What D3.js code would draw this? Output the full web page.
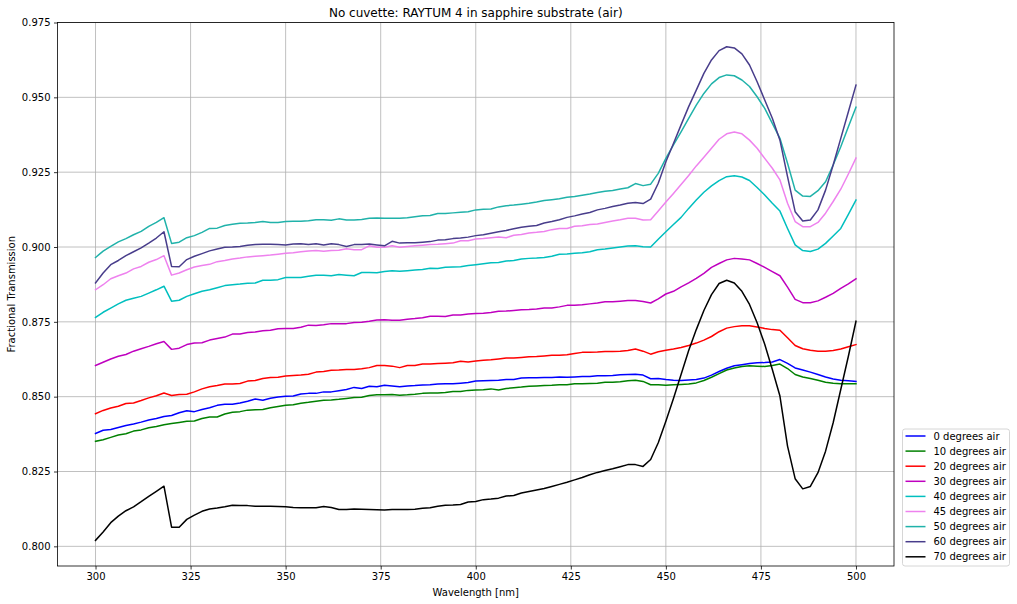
<!DOCTYPE html>
<html>
<head>
<meta charset="utf-8">
<script src="https://cdn.jsdelivr.net/npm/d3@7"></script>
<style>
  body { margin: 0; background: #fff; }
  text { font-family: "DejaVu Sans", sans-serif; }
</style>
</head>
<body>
<div id="chart"></div>
<script>
// wavelength grid [nm]
var wavelengths = [
  300,302,304,306,308,310,312,314,316,318,
  320,322,324,326,328,330,332,334,336,338,
  340,342,344,346,348,350,352,354,356,358,
  360,362,364,366,368,370,372,374,376,378,
  380,382,384,386,388,390,392,394,396,398,
  400,402,404,406,408,410,412,414,416,418,
  420,422,424,426,428,430,432,434,436,438,
  440,442,444,446,448,450,452,454,456,458,
  460,462,464,466,468,470,472,474,476,478,
  480,482,484,486,488,490,492,494,496,498,
  500
];

var labels = ['0 degrees air', '10 degrees air', '20 degrees air', '30 degrees air',
  '40 degrees air', '45 degrees air', '50 degrees air', '60 degrees air', '70 degrees air'];

var colors = ['#0000ff', '#008000', '#ff0000', '#bf00bf', '#00bfbf',
  '#ee82ee', '#20b2aa', '#483d8b', '#000000'];

var xTicks = [300, 325, 350, 375, 400, 425, 450, 475, 500];
var yTicks = [0.800, 0.825, 0.850, 0.875, 0.900, 0.925, 0.950, 0.975];

// fractional transmission per angle
var deg0 = [
  .8377,.8388,.8390,.8397,.8404,.8409,.8415,.8422,.8427,.8434,
  .8437,.8446,.8453,.8450,.8457,.8463,.8471,.8475,.8475,.8479,
  .8485,.8492,.8488,.8495,.8499,.8501,.8502,.8509,.8511,.8511,
  .8516,.8516,.8520,.8524,.8531,.8527,.8535,.8533,.8538,.8536,
  .8533,.8536,.8537,.8539,.8540,.8542,.8543,.8543,.8545,.8547,
  .8552,.8553,.8554,.8555,.8557,.8557,.8562,.8563,.8563,.8564,
  .8564,.8566,.8565,.8566,.8567,.8567,.8570,.8570,.8571,.8573,
  .8574,.8575,.8572,.8560,.8561,.8557,.8555,.8554,.8556,.8557,
  .8562,.8572,.8584,.8595,.8603,.8607,.8611,.8613,.8614,.8616,
  .8624,.8611,.8596,.8589,.8582,.8574,.8566,.8559,.8555,.8553,
  .8551
];
var deg10 = [
  .8351,.8356,.8364,.8372,.8376,.8385,.8389,.8396,.8400,.8406,
  .8410,.8414,.8418,.8419,.8427,.8432,.8432,.8442,.8448,.8450,
  .8455,.8456,.8457,.8463,.8467,.8471,.8473,.8478,.8481,.8485,
  .8488,.8489,.8491,.8494,.8497,.8498,.8504,.8506,.8506,.8507,
  .8505,.8506,.8508,.8511,.8512,.8512,.8514,.8517,.8517,.8521,
  .8522,.8523,.8526,.8522,.8527,.8530,.8532,.8535,.8536,.8537,
  .8538,.8540,.8540,.8543,.8543,.8544,.8545,.8548,.8548,.8550,
  .8553,.8555,.8551,.8540,.8540,.8538,.8540,.8541,.8542,.8546,
  .8554,.8565,.8577,.8589,.8596,.8601,.8603,.8602,.8601,.8604,
  .8609,.8594,.8574,.8566,.8561,.8555,.8548,.8545,.8543,.8543,
  .8543
];
var deg20 = [
  .8443,.8454,.8462,.8468,.8477,.8479,.8487,.8496,.8503,.8512,
  .8504,.8507,.8508,.8516,.8526,.8533,.8537,.8542,.8542,.8544,
  .8552,.8554,.8561,.8564,.8565,.8569,.8571,.8572,.8575,.8582,
  .8584,.8588,.8589,.8591,.8591,.8593,.8597,.8604,.8604,.8602,
  .8597,.8604,.8604,.8609,.8609,.8611,.8612,.8613,.8618,.8616,
  .8619,.8622,.8623,.8626,.8629,.8629,.8631,.8633,.8634,.8636,
  .8638,.8638,.8640,.8644,.8648,.8648,.8649,.8651,.8651,.8652,
  .8654,.8659,.8652,.8642,.8650,.8655,.8659,.8664,.8671,.8679,
  .8689,.8701,.8717,.8729,.8734,.8737,.8737,.8733,.8728,.8724,
  .8722,.8697,.8671,.8660,.8655,.8652,.8652,.8654,.8659,.8667,
  .8674
];
var deg30 = [
  .8604,.8615,.8626,.8635,.8641,.8652,.8660,.8668,.8677,.8684,
  .8658,.8662,.8674,.8679,.8680,.8689,.8694,.8699,.8709,.8709,
  .8714,.8716,.8720,.8722,.8727,.8728,.8728,.8732,.8739,.8738,
  .8740,.8744,.8744,.8744,.8748,.8749,.8752,.8756,.8757,.8755,
  .8755,.8759,.8761,.8764,.8769,.8769,.8768,.8773,.8773,.8776,
  .8778,.8779,.8781,.8785,.8786,.8788,.8790,.8791,.8793,.8796,
  .8796,.8800,.8805,.8805,.8807,.8810,.8813,.8817,.8817,.8819,
  .8821,.8821,.8818,.8813,.8827,.8843,.8852,.8867,.8880,.8895,
  .8912,.8932,.8945,.8957,.8962,.8960,.8957,.8945,.8932,.8918,
  .8904,.8866,.8825,.8814,.8814,.8820,.8832,.8845,.8862,.8877,
  .8894
];
var deg40 = [
  .8765,.8782,.8796,.8810,.8822,.8829,.8835,.8846,.8857,.8869,
  .8819,.8822,.8835,.8844,.8852,.8857,.8864,.8871,.8874,.8876,
  .8879,.8880,.8889,.8889,.8891,.8898,.8898,.8898,.8902,.8906,
  .8906,.8904,.8908,.8906,.8904,.8915,.8915,.8914,.8918,.8921,
  .8919,.8921,.8923,.8925,.8929,.8928,.8932,.8933,.8934,.8938,
  .8941,.8944,.8947,.8948,.8953,.8955,.8960,.8962,.8963,.8965,
  .8969,.8976,.8977,.8979,.8981,.8984,.8991,.8993,.8997,.9000,
  .9003,.9004,.9001,.9000,.9026,.9051,.9075,.9099,.9129,.9157,
  .9183,.9204,.9222,.9235,.9238,.9234,.9222,.9199,.9174,.9146,
  .9120,.9062,.9007,.8988,.8985,.8993,.9012,.9037,.9062,.9109,
  .9157
];
var deg45 = [
  .8857,.8874,.8894,.8904,.8913,.8927,.8935,.8949,.8958,.8971,
  .8906,.8913,.8924,.8933,.8938,.8942,.8951,.8955,.8960,.8963,
  .8967,.8969,.8971,.8973,.8976,.8979,.8981,.8984,.8987,.8988,
  .8986,.8988,.8989,.8994,.8991,.8991,.9004,.8999,.8999,.9004,
  .8999,.9002,.9004,.9006,.9008,.9009,.9011,.9013,.9021,.9021,
  .9027,.9028,.9031,.9033,.9031,.9039,.9042,.9047,.9049,.9052,
  .9058,.9062,.9062,.9069,.9071,.9075,.9077,.9082,.9087,.9091,
  .9096,.9096,.9090,.9091,.9120,.9150,.9179,.9209,.9239,.9271,
  .9300,.9330,.9360,.9378,.9384,.9378,.9357,.9330,.9296,.9263,
  .9224,.9146,.9085,.9068,.9068,.9082,.9113,.9152,.9193,.9244,
  .9297
];
var deg50 = [
  .8965,.8986,.9002,.9017,.9028,.9041,.9052,.9069,.9082,.9098,
  .9012,.9016,.9031,.9038,.9049,.9062,.9063,.9072,.9076,.9079,
  .9080,.9082,.9085,.9082,.9082,.9085,.9086,.9086,.9088,.9091,
  .9091,.9089,.9094,.9090,.9090,.9092,.9096,.9097,.9096,.9096,
  .9096,.9098,.9101,.9104,.9105,.9112,.9112,.9114,.9116,.9118,
  .9124,.9126,.9127,.9134,.9138,.9140,.9143,.9146,.9150,.9155,
  .9158,.9161,.9166,.9169,.9173,.9177,.9182,.9186,.9189,.9194,
  .9198,.9212,.9205,.9210,.9246,.9296,.9341,.9385,.9430,.9474,
  .9513,.9545,.9566,.9575,.9572,.9558,.9536,.9502,.9463,.9413,
  .9363,.9280,.9190,.9170,.9169,.9188,.9218,.9274,.9335,.9402,
  .9467
];
var deg60 = [
  .8880,.8913,.8941,.8955,.8971,.8984,.8997,.9013,.9030,.9051,
  .8935,.8934,.8958,.8969,.8978,.8987,.8993,.8999,.9000,.9002,
  .9006,.9008,.9009,.9009,.9008,.9007,.9010,.9011,.9008,.9011,
  .9007,.9011,.9008,.9002,.9008,.9008,.9010,.9007,.9004,.9019,
  .9013,.9014,.9014,.9016,.9018,.9023,.9024,.9028,.9030,.9033,
  .9038,.9041,.9046,.9051,.9055,.9061,.9066,.9069,.9072,.9080,
  .9085,.9091,.9099,.9104,.9110,.9115,.9124,.9129,.9135,.9140,
  .9146,.9149,.9145,.9160,.9213,.9285,.9346,.9408,.9469,.9524,
  .9580,.9625,.9656,.9669,.9665,.9645,.9608,.9552,.9491,.9430,
  .9357,.9235,.9118,.9087,.9090,.9124,.9190,.9274,.9363,.9452,
  .9541
];
var deg70 = [
  .8020,.8048,.8079,.8101,.8119,.8132,.8149,.8167,.8184,.8201,
  .8064,.8064,.8090,.8104,.8117,.8125,.8128,.8132,.8137,.8136,
  .8136,.8134,.8134,.8134,.8133,.8132,.8130,.8129,.8129,.8129,
  .8133,.8130,.8123,.8123,.8125,.8124,.8123,.8122,.8121,.8123,
  .8123,.8123,.8124,.8127,.8129,.8134,.8137,.8138,.8140,.8148,
  .8150,.8156,.8158,.8161,.8168,.8170,.8178,.8183,.8188,.8193,
  .8200,.8207,.8214,.8222,.8230,.8239,.8247,.8253,.8259,.8266,
  .8273,.8273,.8267,.8290,.8346,.8418,.8494,.8574,.8654,.8724,
  .8788,.8841,.8878,.8889,.8880,.8852,.8808,.8747,.8675,.8591,
  .8502,.8335,.8226,.8192,.8200,.8246,.8318,.8413,.8524,.8635,
  .8752
];

var seriesValues = [deg0, deg10, deg20, deg30, deg40, deg45, deg50, deg60, deg70];

// layout
var attrs = {
  width: 1017,
  height: 604,
  marginLeft: 57.5,
  marginRight: 123,
  marginTop: 22.5,
  marginBottom: 38,
  gridColor: '#b0b0b0',
  lineWidth: 1.5,
  fontSize: 10,
  titleSize: 12
};

var calc = {};
calc.chartWidth = attrs.width - attrs.marginLeft - attrs.marginRight;
calc.chartHeight = attrs.height - attrs.marginTop - attrs.marginBottom;

var svg = d3.select('#chart').append('svg')
  .attr('width', attrs.width)
  .attr('height', attrs.height);

var chart = svg.append('g')
  .attr('transform', 'translate(' + attrs.marginLeft + ',' + attrs.marginTop + ')');

var x = d3.scaleLinear().domain([290, 510]).range([0, calc.chartWidth]);
var y = d3.scaleLinear().domain([0.79343, 0.975]).range([calc.chartHeight, 0]);

// grid
chart.append('g').selectAll('line').data(xTicks).enter().append('line')
  .attr('x1', d => x(d)).attr('x2', d => x(d))
  .attr('y1', 0).attr('y2', calc.chartHeight)
  .attr('stroke', attrs.gridColor).attr('stroke-width', 0.8);
chart.append('g').selectAll('line').data(yTicks).enter().append('line')
  .attr('x1', 0).attr('x2', calc.chartWidth)
  .attr('y1', d => y(d)).attr('y2', d => y(d))
  .attr('stroke', attrs.gridColor).attr('stroke-width', 0.8);

// series lines
var line = d3.line()
  .x((d, i) => x(wavelengths[i]))
  .y(d => y(d));

chart.append('g').selectAll('path').data(seriesValues).enter().append('path')
  .attr('d', line)
  .attr('fill', 'none')
  .attr('stroke', (d, i) => colors[i])
  .attr('stroke-width', attrs.lineWidth)
  .attr('stroke-linejoin', 'round')
  .attr('stroke-linecap', 'square');

// axes
var xAxis = chart.append('g')
  .attr('transform', 'translate(0,' + calc.chartHeight + ')')
  .call(d3.axisBottom(x).tickValues(xTicks).tickSize(3.5).tickPadding(3.5).tickFormat(d3.format('d')));
var yAxis = chart.append('g')
  .call(d3.axisLeft(y).tickValues(yTicks).tickSize(3.5).tickPadding(3.5).tickFormat(d3.format('.3f')));

[xAxis, yAxis].forEach(function(ax) {
  ax.select('.domain').remove();
  ax.selectAll('line').attr('stroke', '#000').attr('stroke-width', 0.8);
  ax.selectAll('text')
    .attr('fill', '#000')
    .style('font-size', attrs.fontSize + 'px')
    .style('font-family', '"DejaVu Sans", sans-serif');
});

// frame
chart.append('rect')
  .attr('width', calc.chartWidth).attr('height', calc.chartHeight)
  .attr('fill', 'none').attr('stroke', '#000').attr('stroke-width', 0.8);

// texts
svg.append('text')
  .attr('x', attrs.marginLeft + calc.chartWidth / 2)
  .attr('y', 17)
  .attr('text-anchor', 'middle')
  .style('font-size', attrs.titleSize + 'px')
  .text('No cuvette: RAYTUM 4 in sapphire substrate (air)');

svg.append('text')
  .attr('x', attrs.marginLeft + calc.chartWidth / 2)
  .attr('y', 596)
  .attr('text-anchor', 'middle')
  .style('font-size', attrs.fontSize + 'px')
  .text('Wavelength [nm]');

svg.append('text')
  .attr('transform', 'translate(15,' + (attrs.marginTop + calc.chartHeight / 2) + ') rotate(-90)')
  .attr('text-anchor', 'middle')
  .style('font-size', attrs.fontSize + 'px')
  .text('Fractional Transmission');

// legend
var legend = svg.append('g').attr('transform', 'translate(902.5,429)');
legend.append('rect')
  .attr('width', 107).attr('height', 137)
  .attr('rx', 2.5)
  .attr('fill', '#fff').attr('fill-opacity', 0.8)
  .attr('stroke', '#cccccc').attr('stroke-width', 0.8);

var legendItem = legend.selectAll('.legend-item').data(labels).enter().append('g')
  .attr('class', 'legend-item')
  .attr('transform', (d, i) => 'translate(0,' + (7 + i * 15.1) + ')');
legendItem.append('line')
  .attr('x1', 3).attr('x2', 23)
  .attr('stroke', (d, i) => colors[i])
  .attr('stroke-width', attrs.lineWidth);
legendItem.append('text')
  .attr('x', 31).attr('y', 3.6)
  .style('font-size', attrs.fontSize + 'px')
  .text(d => d);
</script>
</body>
</html>
